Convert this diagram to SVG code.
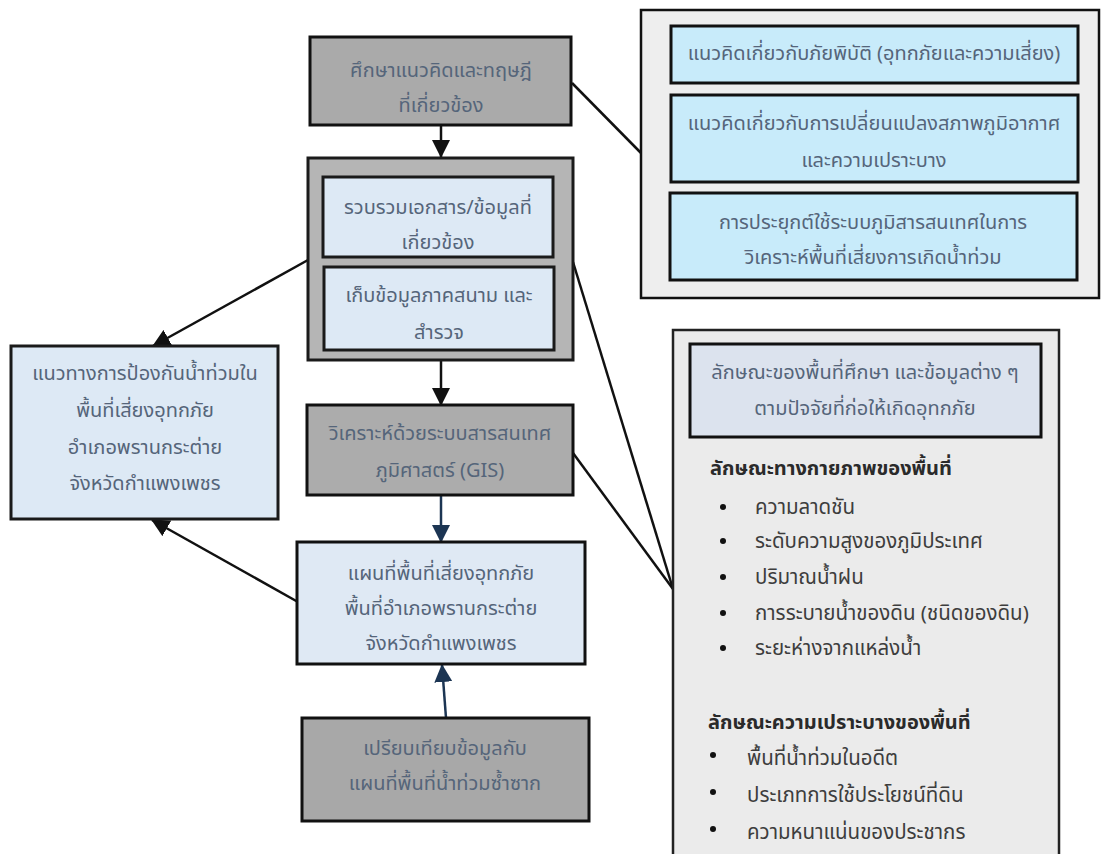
<svg xmlns="http://www.w3.org/2000/svg" width="1102" height="854" viewBox="0 0 1102 854">
  <defs>
    <marker id="arrowBlack" markerUnits="userSpaceOnUse" markerWidth="18" markerHeight="18" viewBox="0 0 18 18" refX="17" refY="9" orient="auto">
      <path d="M0,0 L18,9 L0,18 Z" fill="#111"/>
    </marker>
    <marker id="arrowNavy" markerUnits="userSpaceOnUse" markerWidth="18" markerHeight="18" viewBox="0 0 18 18" refX="17" refY="9" orient="auto">
      <path d="M0,0 L18,9 L0,18 Z" fill="#1c3553"/>
    </marker>
    <style>
      .t { font-family: "Noto Sans Thai", "Noto Sans", "DejaVu Sans", sans-serif; font-size: 20px; fill: #55657a; text-anchor: middle; }
      .l { font-family: "Noto Sans Thai", "Noto Sans", "DejaVu Sans", sans-serif; font-size: 20.5px; fill: #3d3d3d; }
      .h { font-family: "Noto Sans Thai", "Noto Sans", "DejaVu Sans", sans-serif; font-size: 20px; font-weight: bold; fill: #2a2a2a; }
      .grey { fill: #aaaaaa; stroke: #111; stroke-width: 3; }
      .pale { fill: #dde9f5; stroke: #1a1a1a; stroke-width: 3; }
      .cyan { fill: #c8ebfa; stroke: #111; stroke-width: 3; }
      .panel { fill: #eeeeee; stroke: #111; stroke-width: 2.5; }
      .line { stroke: #111; stroke-width: 2.5; fill: none; }
      .navy { stroke: #1c3553; stroke-width: 2.5; fill: none; }
      .dot { fill: #111; }
    </style>
  </defs>
  <rect width="1102" height="854" fill="#ffffff"/>

  <!-- connectors -->
  <g id="connectors">
    <line class="line" x1="441" y1="125" x2="441" y2="157" marker-end="url(#arrowBlack)"/>
    <line class="line" x1="441" y1="360" x2="441" y2="405" marker-end="url(#arrowBlack)"/>
    <line class="navy" x1="441" y1="495" x2="441" y2="542" marker-end="url(#arrowNavy)"/>
    <line class="navy" x1="446" y1="718" x2="442" y2="665" marker-end="url(#arrowNavy)"/>
    <line class="line" x1="308" y1="260" x2="153" y2="346" marker-end="url(#arrowBlack)"/>
    <line class="line" x1="298" y1="602" x2="152" y2="520" marker-end="url(#arrowBlack)"/>
    <line class="line" x1="572" y1="83" x2="641" y2="153"/>
    <line class="line" x1="573" y1="262" x2="673" y2="589"/>
    <line class="line" x1="573" y1="453" x2="673" y2="589"/>
  </g>

  <!-- study of concepts and theories -->
  <g id="node-theory">
    <rect class="grey" x="310" y="37" width="261" height="88"/>
    <text class="t" x="441" y="77">ศึกษาแนวคิดและทฤษฎี</text>
    <text class="t" x="441" y="112">ที่เกี่ยวข้อง</text>
  </g>

  <!-- data collection group -->
  <g id="node-collect">
    <rect x="308" y="158" width="265" height="202" fill="#b5b5b5" stroke="#1a1a1a" stroke-width="3"/>
    <rect class="pale" x="323" y="177" width="230" height="80"/>
    <text class="t" x="438" y="214">รวบรวมเอกสาร/ข้อมูลที่</text>
    <text class="t" x="438" y="249">เกี่ยวข้อง</text>
    <rect class="pale" x="324" y="267" width="230" height="83"/>
    <text class="t" x="439" y="302">เก็บข้อมูลภาคสนาม และ</text>
    <text class="t" x="439" y="339">สำรวจ</text>
  </g>

  <!-- GIS analysis -->
  <g id="node-gis">
    <rect x="307" y="405" width="266" height="90" fill="#acacac" stroke="#111" stroke-width="3"/>
    <text class="t" x="440" y="440">วิเคราะห์ด้วยระบบสารสนเทศ</text>
    <text class="t" x="440" y="477">ภูมิศาสตร์ (GIS)</text>
  </g>

  <!-- flood risk map -->
  <g id="node-map">
    <rect x="297" y="542" width="288" height="122" fill="#dfe9f4" stroke="#111" stroke-width="3"/>
    <text class="t" x="441" y="580">แผนที่พื้นที่เสี่ยงอุทกภัย</text>
    <text class="t" x="441" y="615">พื้นที่อำเภอพรานกระต่าย</text>
    <text class="t" x="441" y="650">จังหวัดกำแพงเพชร</text>
  </g>

  <!-- comparison with recurrent flood map -->
  <g id="node-compare">
    <rect x="302" y="718" width="287" height="103" fill="#a8a8a8" stroke="#111" stroke-width="3"/>
    <text class="t" x="445" y="755">เปรียบเทียบข้อมูลกับ</text>
    <text class="t" x="445" y="790">แผนที่พื้นที่น้ำท่วมซ้ำซาก</text>
  </g>

  <!-- flood prevention guidelines -->
  <g id="node-guideline">
    <rect class="pale" x="11" y="346" width="267" height="173"/>
    <text class="t" x="145" y="380">แนวทางการป้องกันน้ำท่วมใน</text>
    <text class="t" x="145" y="417">พื้นที่เสี่ยงอุทกภัย</text>
    <text class="t" x="145" y="454">อำเภอพรานกระต่าย</text>
    <text class="t" x="145" y="490">จังหวัดกำแพงเพชร</text>
  </g>

  <!-- concepts panel -->
  <g id="node-concepts">
    <rect class="panel" x="641" y="10" width="458" height="288" fill="#efefef"/>
    <rect class="cyan" x="671" y="26" width="407" height="57"/>
    <text class="t" x="874" y="60">แนวคิดเกี่ยวกับภัยพิบัติ (อุทกภัยและความเสี่ยง)</text>
    <rect class="cyan" x="671" y="95" width="407" height="87"/>
    <text class="t" x="874" y="130">แนวคิดเกี่ยวกับการเปลี่ยนแปลงสภาพภูมิอากาศ</text>
    <text class="t" x="874" y="167">และความเปราะบาง</text>
    <rect class="cyan" x="670" y="193" width="407" height="87"/>
    <text class="t" x="873" y="229">การประยุกต์ใช้ระบบภูมิสารสนเทศในการ</text>
    <text class="t" x="873" y="264">วิเคราะห์พื้นที่เสี่ยงการเกิดน้ำท่วม</text>
  </g>

  <!-- study area factors panel -->
  <g id="node-factors">
    <rect x="673" y="330" width="386" height="540" fill="#ebebeb" stroke="#222" stroke-width="2.5"/>
    <rect x="690" y="344" width="351" height="93" fill="#dce3ee" stroke="#111" stroke-width="3"/>
    <text class="t" x="865" y="379">ลักษณะของพื้นที่ศึกษา และข้อมูลต่าง ๆ</text>
    <text class="t" x="865" y="415">ตามปัจจัยที่ก่อให้เกิดอุทกภัย</text>

    <text class="h" x="710" y="475">ลักษณะทางกายภาพของพื้นที่</text>
    <circle class="dot" cx="723" cy="507" r="3"/>
    <text class="l" x="755" y="514">ความลาดชัน</text>
    <circle class="dot" cx="723" cy="541" r="3"/>
    <text class="l" x="755" y="548">ระดับความสูงของภูมิประเทศ</text>
    <circle class="dot" cx="723" cy="577" r="3"/>
    <text class="l" x="755" y="584">ปริมาณน้ำฝน</text>
    <circle class="dot" cx="723" cy="613" r="3"/>
    <text class="l" x="755" y="620">การระบายน้ำของดิน (ชนิดของดิน)</text>
    <circle class="dot" cx="723" cy="648" r="3"/>
    <text class="l" x="755" y="655">ระยะห่างจากแหล่งน้ำ</text>

    <text class="h" x="708" y="729">ลักษณะความเปราะบางของพื้นที่</text>
    <circle class="dot" cx="713" cy="755" r="3"/>
    <text class="l" x="747" y="765">พื้นที่น้ำท่วมในอดีต</text>
    <circle class="dot" cx="713" cy="792" r="3"/>
    <text class="l" x="747" y="802">ประเภทการใช้ประโยชน์ที่ดิน</text>
    <circle class="dot" cx="713" cy="829" r="3"/>
    <text class="l" x="747" y="839">ความหนาแน่นของประชากร</text>
  </g>
</svg>
